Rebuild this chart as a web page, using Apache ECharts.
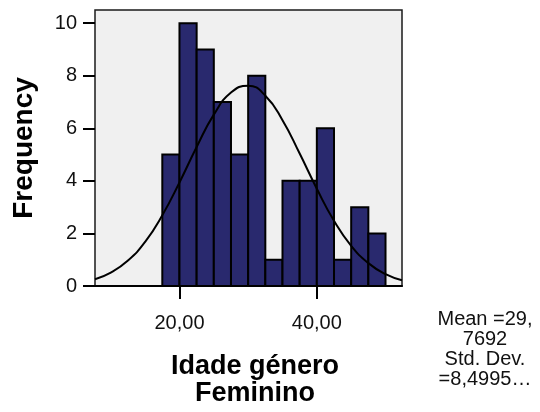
<!DOCTYPE html>
<html><head><meta charset="utf-8">
<script src="https://cdn.jsdelivr.net/npm/echarts@6/dist/echarts.min.js"></script>
<style>html,body{margin:0;padding:0;background:#fff}#c{width:540px;height:412px}</style>
</head><body><div id="c"></div>
<script>
// Histogram bins (start of each bin) and counts
const binStarts = [17.5, 20, 22.5, 25, 27.5, 30, 32.5, 35, 37.5, 40, 42.5, 45, 47.5];
const binWidth = 2.5;
const frequencies = [5, 10, 9, 7, 5, 8, 1, 4, 4, 6, 1, 3, 2];
// Normal curve points
const curveX = [7.7, 10, 12.5, 15, 17.5, 20, 22.5, 25, 27.5, 30, 32.5, 35, 37.5, 40, 42.5, 45, 47.5, 50, 52.4];
const curveY = [0.26, 0.51, 0.97, 1.68, 2.69, 3.94, 5.29, 6.52, 7.36, 7.62, 7.24, 6.31, 5.04, 3.70, 2.48, 1.53, 0.87, 0.45, 0.22];
const yTicks = [0, 2, 4, 6, 8, 10];
const xTicks = [20, 40];
const xTickLabels = ['20,00', '40,00'];
const xTitle = ['Idade género', 'Feminino'];
const yTitle = 'Frequency';
const statsLines = ['Mean =29,', '7692', 'Std. Dev.', '=8,4995…'];

const FONT = '"Liberation Sans", Arial, sans-serif';
const chart = echarts.init(document.getElementById('c'), null, {renderer: 'canvas'});

const barData = binStarts.map((s, i) => [s, s + binWidth, frequencies[i]]);
const lineData = curveX.map((x, i) => [x, curveY[i]]);

chart.setOption({
  animation: false,
  backgroundColor: '#ffffff',
  grid: {
    left: 95, right: 138, top: 10, bottom: 126,
    show: true, backgroundColor: '#f0f0f0', borderColor: '#1a1a1a', borderWidth: 1.5
  },
  xAxis: {
    type: 'value', min: 7.7, max: 52.4,
    splitLine: {show: false},
    axisLine: {show: true, onZero: false, lineStyle: {color: '#000', width: 2}},
    axisTick: {show: true, customValues: xTicks, length: 13, lineStyle: {color: '#000', width: 2}},
    axisLabel: {
      show: true, customValues: xTicks, margin: 27,
      formatter: v => xTickLabels[xTicks.indexOf(v)],
      fontFamily: FONT, fontSize: 20, color: '#111'
    }
  },
  yAxis: {
    type: 'value', min: 0, max: 10.5,
    splitLine: {show: false},
    axisLine: {show: false},
    axisTick: {show: true, customValues: yTicks, length: 12, lineStyle: {color: '#000', width: 2}},
    axisLabel: {
      show: true, customValues: yTicks, margin: 18,
      fontFamily: FONT, fontSize: 20, color: '#111'
    }
  },
  series: [
    {
      type: 'custom',
      data: barData,
      encode: {x: [0, 1], y: 2},
      renderItem: function (params, api) {
        const p0 = api.coord([api.value(0), api.value(2)]);
        const p1 = api.coord([api.value(1), 0]);
        return {
          type: 'rect',
          shape: {x: p0[0], y: p0[1], width: p1[0] - p0[0], height: p1[1] - p0[1]},
          style: {fill: '#29296e', stroke: '#000', lineWidth: 2}
        };
      },
      z: 2
    },
    {
      type: 'line',
      data: lineData,
      smooth: true,
      showSymbol: false,
      lineStyle: {color: '#000', width: 2},
      z: 3
    }
  ],
  graphic: [
    {
      type: 'text', x: 24, y: 148, rotation: Math.PI / 2,
      style: {text: yTitle, textAlign: 'center', textVerticalAlign: 'middle',
        font: 'bold 28px ' + FONT, fill: '#000'}
    },
    {
      type: 'text', x: 255, y: 367,
      style: {text: xTitle[0], textAlign: 'center', textVerticalAlign: 'middle',
        font: 'bold 27px ' + FONT, fill: '#000'}
    },
    {
      type: 'text', x: 255, y: 394,
      style: {text: xTitle[1], textAlign: 'center', textVerticalAlign: 'middle',
        font: 'bold 27px ' + FONT, fill: '#000'}
    }
  ].concat(statsLines.map((t, i) => ({
    type: 'text', x: 485, y: 319 + i * 20.3,
    style: {text: t, textAlign: 'center', textVerticalAlign: 'middle',
      font: '20px ' + FONT, fill: '#111'}
  })))
});
</script>
</body></html>
